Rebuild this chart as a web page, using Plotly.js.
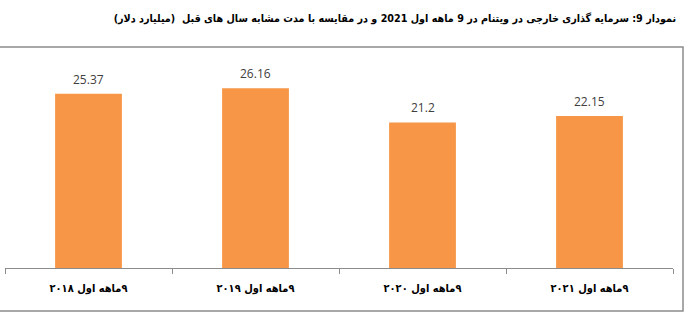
<!DOCTYPE html>
<html>
<head>
<meta charset="utf-8">
<script src="https://cdn.plot.ly/plotly-3.0.1.min.js"></script>
<style>html,body{margin:0;padding:0;background:#fff;}#chart{width:689px;height:316px;}</style>
</head>
<body>
<div id="chart"></div>
<script>
const categories = ["۹ماهه اول ۲۰۱۸", "۹ماهه اول ۲۰۱۹", "۹ماهه اول ۲۰۲۰", "۹ماهه اول ۲۰۲۱"];
const values = [25.37, 26.16, 21.2, 22.15];
const valueLabels = ["25.37", "26.16", "21.2", "22.15"];
const chartTitle = "نمودار 9: سرمایه گذاری خارجی در ویتنام در 9 ماهه اول 2021 و در مقایسه با مدت مشابه سال های قبل  (میلیارد دلار)";

const RLE = "\u202B", PDF = "\u202C";

const trace = {
  type: "bar",
  x: categories,
  y: values,
  marker: {color: "#F79646"},
  width: 0.4,
  hoverinfo: "none"
};

const annotations = categories.map((c, i) => ({
  x: c, y: values[i], xref: "x", yref: "y",
  text: valueLabels[i], showarrow: false,
  yanchor: "bottom", yshift: 4,
  font: {family: "Open Sans, sans-serif", size: 12, color: "#404040"}
}));

const layout = {
  width: 689, height: 316,
  margin: {l: 5, r: 16, t: 62, b: 48},
  paper_bgcolor: "#fff", plot_bgcolor: "#fff",
  showlegend: false,
  title: {
    text: RLE + chartTitle + PDF,
    font: {family: "DejaVu Sans Condensed, DejaVu Sans, sans-serif", size: 10.7, color: "#000", weight: "bold"},
    xref: "container", yref: "container",
    x: 676 / 689, xanchor: "right",
    y: 1 - 18 / 316, yanchor: "middle"
  },
  xaxis: {
    type: "category",
    tickvals: categories,
    ticktext: categories.map(c => RLE + c + PDF),
    showline: true, linecolor: "#8c8c8c", linewidth: 1,
    ticks: "outside", tickson: "boundaries", ticklen: 5, tickcolor: "#8c8c8c",
    ticklabelstandoff: 10,
    tickfont: {family: "DejaVu Sans Condensed, DejaVu Sans, sans-serif", size: 11, color: "#000", weight: "bold"},
    showgrid: false, zeroline: false, fixedrange: true
  },
  yaxis: {
    range: [0, 30], visible: false, showgrid: false, zeroline: false, fixedrange: true
  },
  annotations: annotations,
  shapes: [{
    type: "rect", xref: "paper", yref: "paper",
    x0: (-2 - 5) / 668, x1: (683 - 5) / 668,
    y0: (268 - 311) / 206, y1: (268 - 47) / 206,
    line: {color: "#8c8c8c", width: 1.5},
    fillcolor: "rgba(0,0,0,0)", layer: "below"
  }]
};

Plotly.newPlot("chart", [trace], layout, {staticPlot: true, displayModeBar: false});
</script>
</body>
</html>
